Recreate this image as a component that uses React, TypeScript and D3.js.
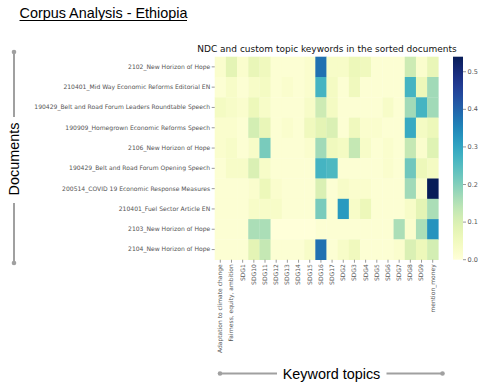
import * as d3 from 'd3';

const documents = [
    '2102_New Horizon of Hope',
    '210401_Mid Way Economic Reforms Editorial EN',
    '190429_Belt and Road Forum Leaders Roundtable Speech',
    '190909_Homegrown Economic Reforms Speech',
    '2106_New Horizon of Hope',
    '190429_Belt and Road Forum Opening Speech',
    '200514_COVID 19 Economic Response Measures',
    '210401_Fuel Sector Article EN',
    '2103_New Horizon of Hope',
    '2104_New Horizon of Hope',
];

const topics = [
    'Adaptation to climate change', 'Fairness, equity, ambition', 'SDG1', 'SDG10', 'SDG11',
    'SDG12', 'SDG13', 'SDG14', 'SDG15', 'SDG16', 'SDG17', 'SDG2', 'SDG3', 'SDG4', 'SDG5',
    'SDG6', 'SDG7', 'SDG8', 'SDG9', 'mention_money',
];

// one row per document, one value per topic
const scores: number[][] = [
    [0.02, 0.08, 0.02, 0.07, 0.05, 0.01, 0.01, 0.01, 0.02, 0.38, 0.03, 0.03, 0.06, 0.05, 0.01, 0.01, 0.01, 0.12, 0.02, 0.07],
    [0.01, 0.03, 0.01, 0.03, 0.04, 0.01, 0.02, 0.01, 0.02, 0.27, 0.04, 0.01, 0.05, 0.01, 0.01, 0.01, 0.01, 0.27, 0.06, 0.17],
    [0.04, 0.03, 0.02, 0.06, 0.03, 0.01, 0.01, 0.01, 0.03, 0.12, 0.04, 0.01, 0.01, 0.01, 0.01, 0.03, 0.01, 0.17, 0.27, 0.17],
    [0.02, 0.02, 0.01, 0.11, 0.07, 0.01, 0.02, 0.01, 0.05, 0.08, 0.10, 0.01, 0.05, 0.02, 0.02, 0.01, 0.01, 0.29, 0.04, 0.06],
    [0.02, 0.03, 0.01, 0.03, 0.21, 0.01, 0.01, 0.01, 0.02, 0.17, 0.05, 0.04, 0.13, 0.03, 0.01, 0.02, 0.01, 0.13, 0.02, 0.09],
    [0.01, 0.03, 0.03, 0.10, 0.03, 0.01, 0.01, 0.01, 0.01, 0.27, 0.26, 0.01, 0.01, 0.01, 0.01, 0.02, 0.01, 0.22, 0.06, 0.04],
    [0.01, 0.01, 0.01, 0.02, 0.06, 0.02, 0.01, 0.01, 0.01, 0.10, 0.01, 0.03, 0.02, 0.02, 0.01, 0.01, 0.01, 0.17, 0.02, 0.54],
    [0.01, 0.01, 0.01, 0.03, 0.03, 0.03, 0.01, 0.01, 0.01, 0.21, 0.01, 0.32, 0.03, 0.06, 0.01, 0.01, 0.01, 0.03, 0.08, 0.16],
    [0.01, 0.01, 0.01, 0.16, 0.16, 0.0, 0.0, 0.0, 0.0, 0.01, 0.01, 0.01, 0.01, 0.01, 0.01, 0.01, 0.16, 0.02, 0.16, 0.33],
    [0.01, 0.01, 0.01, 0.08, 0.13, 0.01, 0.01, 0.01, 0.03, 0.38, 0.01, 0.03, 0.05, 0.01, 0.01, 0.01, 0.02, 0.10, 0.06, 0.11],
];

const colorTicks = [0.0, 0.1, 0.2, 0.3, 0.4, 0.5];
const vmax = 0.54;

const W = 483;
const H = 391;
const plot = { left: 214.7, top: 56.7, width: 223.6, height: 203 };
const cbar = { left: 453, width: 10 };
const tickColor = '#555';
const lineGray = '#a0a0a0';
const sans = "'Liberation Sans', Arial, sans-serif";

export default function App() {
    const x = d3.scaleBand<string>().domain(topics).range([plot.left, plot.left + plot.width]);
    const y = d3.scaleBand<string>().domain(documents).range([plot.top, plot.top + plot.height]);
    const color = d3.scaleSequential(d3.interpolateYlGnBu).domain([0, vmax]);
    const cy = d3.scaleLinear().domain([0, vmax]).range([plot.top + plot.height, plot.top]);

    const gradStops = d3.range(0, 1.0001, 0.05);

    return (
        <svg width={W} height={H} style={{ position: 'absolute', left: 0, top: 0, background: '#fff' }}
            fontFamily="'DejaVu Sans', sans-serif">
            <defs>
                <linearGradient id="cb" x1="0" y1="1" x2="0" y2="0">
                    {gradStops.map(t => (
                        <stop key={t} offset={t} stopColor={d3.interpolateYlGnBu(t)} />
                    ))}
                </linearGradient>
            </defs>

            {/* page title */}
            <text x={19.5} y={17.5} fontFamily={sans} fontSize={14.4} fill="#000">
                Corpus Analysis - Ethiopia
            </text>
            <line x1={19.5} x2={187} y1={20.5} y2={20.5} stroke="#000" strokeWidth={1} />

            {/* chart title */}
            <text x={327} y={52} textAnchor="middle" fontSize={9} fill="#111">
                NDC and custom topic keywords in the sorted documents
            </text>

            {/* cells */}
            {scores.map((row, i) => row.map((v, j) => (
                <rect key={`${i}-${j}`}
                    x={x(topics[j])} y={y(documents[i])}
                    width={x.bandwidth() + 0.3} height={y.bandwidth() + 0.3}
                    fill={color(v)} />
            )))}

            {/* row labels */}
            {documents.map(d => (
                <g key={d} transform={`translate(${plot.left},${(y(d) ?? 0) + y.bandwidth() / 2})`}>
                    <line x1={-3} x2={0} stroke={tickColor} strokeWidth={0.6} />
                    <text x={-4.5} dy="0.32em" textAnchor="end" fontSize={6.05} fill={tickColor}>{d}</text>
                </g>
            ))}

            {/* column labels */}
            {topics.map(t => (
                <g key={t} transform={`translate(${(x(t) ?? 0) + x.bandwidth() / 2},${plot.top + plot.height})`}>
                    <line y1={0} y2={3} stroke={tickColor} strokeWidth={0.6} />
                    <text transform="translate(0,4.5) rotate(-90)" dy="0.32em" textAnchor="end" fontSize={6} fill={tickColor}>{t}</text>
                </g>
            ))}

            {/* colour bar */}
            <rect x={cbar.left} y={plot.top} width={cbar.width} height={plot.height} fill="url(#cb)" />
            {colorTicks.map(t => (
                <g key={t} transform={`translate(${cbar.left + cbar.width},${cy(t)})`}>
                    <line x1={0} x2={3} stroke={tickColor} strokeWidth={0.6} />
                    <text x={4.5} dy="0.32em" fontSize={6.5} fill={tickColor}>{t.toFixed(1)}</text>
                </g>
            ))}

            {/* y axis bracket */}
            <g stroke={lineGray} strokeWidth={2}>
                <line x1={14} x2={14} y1={52} y2={117} />
                <line x1={14} x2={14} y1={203} y2={263} />
            </g>
            <circle cx={14} cy={52} r={2.3} fill={lineGray} />
            <circle cx={14} cy={263} r={2.3} fill={lineGray} />
            <text transform="translate(19,159) rotate(-90)" textAnchor="middle"
                fontFamily={sans} fontSize={14.4} fill="#000">Documents</text>

            {/* x axis bracket */}
            <g stroke={lineGray} strokeWidth={2}>
                <line x1={220} x2={277} y1={373.5} y2={373.5} />
                <line x1={386.5} x2={442.5} y1={373.5} y2={373.5} />
            </g>
            <circle cx={220} cy={373.5} r={2.3} fill={lineGray} />
            <circle cx={442.5} cy={373.5} r={2.3} fill={lineGray} />
            <text x={331.5} y={378.5} textAnchor="middle"
                fontFamily={sans} fontSize={14.4} fill="#000">Keyword topics</text>
        </svg>
    );
}
